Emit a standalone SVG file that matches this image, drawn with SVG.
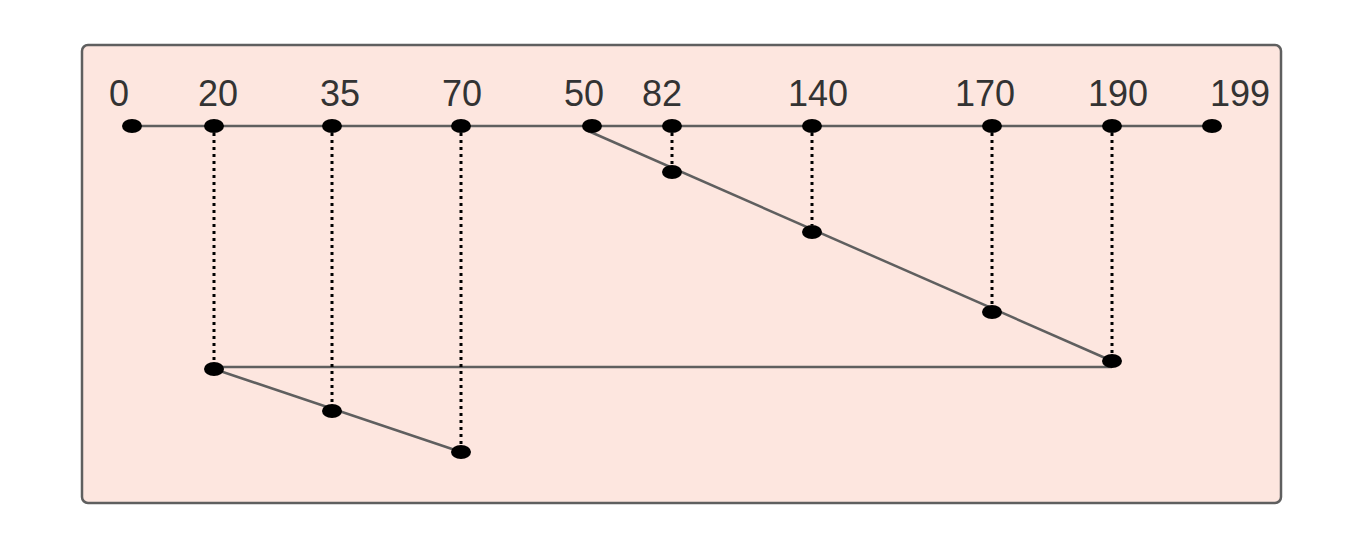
<svg xmlns="http://www.w3.org/2000/svg" width="1364" height="550" viewBox="0 0 1364 550">
<style>
.lbl{font-family:"Liberation Sans",Arial,sans-serif;font-size:36px;fill:#333;text-anchor:middle}
.solid{stroke:#5f5f5f;stroke-width:2.5;fill:none}
.dot{stroke:#000;stroke-width:3;stroke-dasharray:3 4;fill:none}
.pt{fill:#000}
</style>
<rect x="82" y="45" width="1199" height="458" rx="6" fill="#fde6df" stroke="#5f5f5f" stroke-width="2.5"/>
<g id="connectors">
<line class="solid" x1="132" y1="126" x2="1212" y2="126"/>
<line class="solid" x1="586" y1="130" x2="1112" y2="361"/>
<line class="solid" x1="214" y1="367" x2="1112" y2="367"/>
<line class="solid" x1="214" y1="369" x2="461" y2="452"/>
<line class="dot" x1="214" y1="133" x2="214" y2="362"/>
<line class="dot" x1="332" y1="133" x2="332" y2="404"/>
<line class="dot" x1="461" y1="133" x2="461" y2="445"/>
<line class="dot" x1="672" y1="133" x2="672" y2="165"/>
<line class="dot" x1="812" y1="133" x2="812" y2="225"/>
<line class="dot" x1="992" y1="133" x2="992" y2="305"/>
<line class="dot" x1="1112" y1="133" x2="1112" y2="354"/>
</g>
<g id="labels">
<text class="lbl" x="119" y="106">0</text>
<text class="lbl" x="218" y="106">20</text>
<text class="lbl" x="340" y="106">35</text>
<text class="lbl" x="462" y="106">70</text>
<text class="lbl" x="584" y="106">50</text>
<text class="lbl" x="662" y="106">82</text>
<text class="lbl" x="818" y="106">140</text>
<text class="lbl" x="985" y="106">170</text>
<text class="lbl" x="1118" y="106">190</text>
<text class="lbl" x="1240" y="106">199</text>
</g>
<g id="node-0"><ellipse class="pt" cx="132" cy="126" rx="10" ry="7"/></g>
<g id="node-20"><ellipse class="pt" cx="214" cy="126" rx="10" ry="7"/></g>
<g id="node-35"><ellipse class="pt" cx="332" cy="126" rx="10" ry="7"/></g>
<g id="node-70"><ellipse class="pt" cx="461" cy="126" rx="10" ry="7"/></g>
<g id="node-50"><ellipse class="pt" cx="592" cy="126" rx="10" ry="7"/></g>
<g id="node-82"><ellipse class="pt" cx="672" cy="126" rx="10" ry="7"/></g>
<g id="node-140"><ellipse class="pt" cx="812" cy="126" rx="10" ry="7"/></g>
<g id="node-170"><ellipse class="pt" cx="992" cy="126" rx="10" ry="7"/></g>
<g id="node-190"><ellipse class="pt" cx="1112" cy="126" rx="10" ry="7"/></g>
<g id="node-199"><ellipse class="pt" cx="1212" cy="126" rx="10" ry="7"/></g>
<g id="node-82b"><ellipse class="pt" cx="672" cy="172" rx="10" ry="7"/></g>
<g id="node-140b"><ellipse class="pt" cx="812" cy="232" rx="10" ry="7"/></g>
<g id="node-170b"><ellipse class="pt" cx="992" cy="312" rx="10" ry="7"/></g>
<g id="node-190b"><ellipse class="pt" cx="1112" cy="361" rx="10" ry="7"/></g>
<g id="node-20b"><ellipse class="pt" cx="214" cy="369" rx="10" ry="7"/></g>
<g id="node-35b"><ellipse class="pt" cx="332" cy="411" rx="10" ry="7"/></g>
<g id="node-70b"><ellipse class="pt" cx="461" cy="452" rx="10" ry="7"/></g>
</svg>
